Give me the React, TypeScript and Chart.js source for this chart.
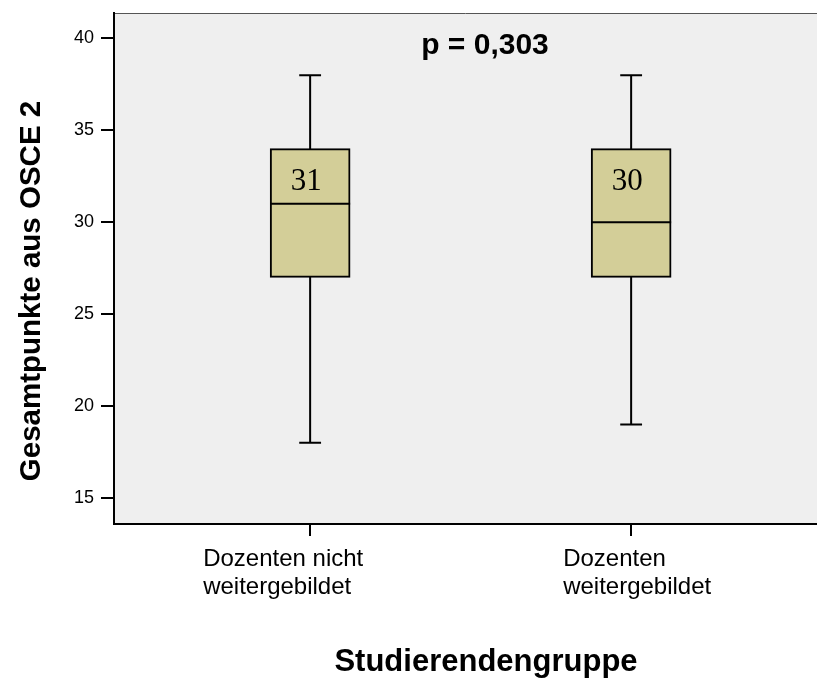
import React, { useEffect, useRef } from "react";
import { Chart, registerables } from "chart.js";

Chart.register(...registerables);

// ---- data ----
const categoryLines = [
  ["Dozenten nicht", "weitergebildet"],
  ["Dozenten", "weitergebildet"],
];
const categoryPositions = [1, 2];
const whiskerLow = [18, 19];
const q1 = [27, 27];
const median = [31, 30];
const q3 = [34, 34];
const whiskerHigh = [38, 38];
const medianLabels = ["31", "30"];
const yTicks = [15, 20, 25, 30, 35, 40];
const pValueText = "p = 0,303";
const xTitle = "Studierendengruppe";
const yTitle = "Gesamtpunkte aus OSCE 2";

// ---- style constants ----
const BOX_HALF = 0.1246; // x units (box 80px wide)
const CAP_HALF = 0.034; // x units
const LABEL_OFFSETS = [-107, -68];
const SANS = '"Liberation Sans", Arial, sans-serif';
const SERIF = '"Liberation Serif", "Times New Roman", serif';

export default function App() {
  const ref = useRef<HTMLCanvasElement | null>(null);

  useEffect(() => {
    document.body.style.margin = "0";
    const canvas = ref.current;
    if (!canvas) return;

    const whiskerData: any[] = [];
    const capData: any[] = [];
    const medianData: any[] = [];
    categoryPositions.forEach((p, i) => {
      whiskerData.push({ x: p, y: whiskerLow[i] }, { x: p, y: whiskerHigh[i] }, { x: p, y: null });
      capData.push(
        { x: p - CAP_HALF, y: whiskerLow[i] },
        { x: p + CAP_HALF, y: whiskerLow[i] },
        { x: p, y: null },
        { x: p - CAP_HALF, y: whiskerHigh[i] },
        { x: p + CAP_HALF, y: whiskerHigh[i] },
        { x: p, y: null }
      );
      medianData.push(
        { x: p - BOX_HALF, y: median[i] },
        { x: p + BOX_HALF, y: median[i] },
        { x: p, y: null }
      );
    });

    const bgPlugin = {
      id: "bg",
      beforeDraw(chart: any) {
        const { ctx, chartArea: a } = chart;
        ctx.save();
        ctx.fillStyle = "#ffffff";
        ctx.fillRect(0, 0, chart.width, chart.height);
        ctx.fillStyle = "#efefef";
        ctx.fillRect(a.left, a.top, a.right - a.left, a.bottom - a.top);
        ctx.strokeStyle = "#555555";
        ctx.lineWidth = 1;
        ctx.beginPath();
        ctx.moveTo(a.left, a.top + 0.5);
        ctx.lineTo(a.right, a.top + 0.5);
        ctx.stroke();
        ctx.restore();
      },
    };

    const textPlugin = {
      id: "texts",
      afterDraw(chart: any) {
        const { ctx } = chart;
        const xs = chart.scales.x;
        const ys = chart.scales.y;
        ctx.save();
        ctx.fillStyle = "#000";
        // median labels
        ctx.font = `31px ${SERIF}`;
        ctx.textAlign = "center";
        ctx.textBaseline = "alphabetic";
        categoryPositions.forEach((p, i) => {
          ctx.fillText(medianLabels[i], xs.getPixelForValue(p) - 4, ys.getPixelForValue(q3[i]) + 41);
        });
        // x category labels
        ctx.font = `24px ${SANS}`;
        ctx.textAlign = "left";
        categoryPositions.forEach((p, i) => {
          const x = xs.getPixelForValue(p) + LABEL_OFFSETS[i];
          categoryLines[i].forEach((line, j) => {
            ctx.fillText(line, x, chart.chartArea.bottom + 42 + j * 28);
          });
        });
        // p value
        ctx.font = `bold 30px ${SANS}`;
        ctx.textAlign = "center";
        ctx.fillText(pValueText, 485, 54);
        // x title
        ctx.font = `bold 31px ${SANS}`;
        ctx.fillText(xTitle, 486, 671);
        // y title
        ctx.translate(40, 291);
        ctx.rotate(-Math.PI / 2);
        ctx.font = `bold 29.5px ${SANS}`;
        ctx.fillText(yTitle, 0, 0);
        ctx.restore();
      },
    };

    const chart = new Chart(canvas, {
      type: "bar",
      data: {
        datasets: [
          {
            type: "line",
            data: whiskerData,
            borderColor: "#000",
            borderWidth: 2,
            pointRadius: 0,
            spanGaps: false,
            order: 4,
          } as any,
          {
            type: "line",
            data: capData,
            borderColor: "#000",
            borderWidth: 2,
            pointRadius: 0,
            spanGaps: false,
            order: 3,
          } as any,
          {
            type: "bar",
            data: categoryPositions.map((p, i) => ({ x: p, y: [q1[i], q3[i]] })),
            backgroundColor: "#d3ce98",
            borderColor: "#000",
            borderWidth: 2,
            borderSkipped: false,
            barThickness: 80,
            order: 2,
          } as any,
          {
            type: "line",
            data: medianData,
            borderColor: "#000",
            borderWidth: 2,
            pointRadius: 0,
            spanGaps: false,
            order: 1,
          } as any,
        ],
      },
      options: {
        animation: false,
        responsive: false,
        maintainAspectRatio: false,
        events: [],
        layout: { padding: { top: 13, left: 0, right: 0, bottom: 0 } },
        plugins: { legend: { display: false }, tooltip: { enabled: false } },
        scales: {
          x: {
            type: "linear",
            offset: false,
            min: 0.389,
            max: 2.579,
            afterBuildTicks: (s: any) => {
              s.ticks = categoryPositions.map((v) => ({ value: v }));
            },
            afterFit: (s: any) => {
              s.height = 160;
              s.paddingLeft = 0;
              s.paddingRight = 0;
            },
            ticks: { display: false },
            grid: {
              offset: false,
              drawOnChartArea: false,
              drawTicks: true,
              tickLength: 12,
              color: "#000",
              lineWidth: 2,
            },
            border: { display: true, color: "#000", width: 2 },
          },
          y: {
            type: "linear",
            min: 13.585,
            max: 41.38,
            afterBuildTicks: (s: any) => {
              s.ticks = yTicks.map((v) => ({ value: v }));
            },
            afterFit: (s: any) => {
              s.width = 114;
              s.paddingTop = 0;
              s.paddingBottom = 0;
            },
            ticks: {
              color: "#000",
              padding: 7,
              font: { family: SANS, size: 18 },
              callback: (v: any) => String(v),
            },
            grid: {
              drawOnChartArea: false,
              drawTicks: true,
              tickLength: 13,
              color: "#000",
              lineWidth: 2,
            },
            border: { display: true, color: "#000", width: 2 },
          },
        },
      } as any,
      plugins: [bgPlugin, textPlugin],
    });

    return () => chart.destroy();
  }, []);

  return (
    <div style={{ width: 817, height: 684 }}>
      <canvas ref={ref} width={817} height={684} style={{ display: "block" }} />
    </div>
  );
}
